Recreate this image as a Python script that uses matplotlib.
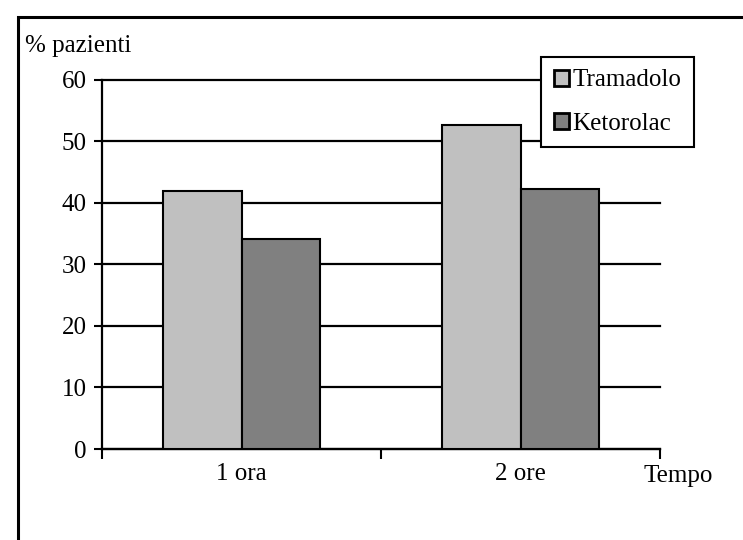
import numpy as np
import matplotlib.pyplot as plt
from matplotlib.patches import Rectangle

plt.rcParams['font.family'] = ['Liberation Serif', 'DejaVu Serif']

categories = ['1 ora', '2 ore']
tramadolo = [42, 52.7]
ketorolac = [34.1, 42.2]
series_names = ['Tramadolo', 'Ketorolac']
yticks = [0, 10, 20, 30, 40, 50, 60]

fs = 18

fig = plt.figure(figsize=(7.43, 5.4), dpi=100)
ax = fig.add_axes([0.1373, 0.1685, 0.751, 0.6835])

# outer frame (cut off on right and bottom like the original)
fig.patches.append(Rectangle((18 / 743, -0.1), 1.2, 1 - 17 / 540 + 0.1,
                             transform=fig.transFigure, fill=False,
                             edgecolor='black', linewidth=2.2))

x = np.arange(len(categories))
w = 0.28
ax.bar(x - w / 2, tramadolo, w, color='#c0c0c0', edgecolor='black', linewidth=1.5,
       label=series_names[0], zorder=3)
ax.bar(x + w / 2, ketorolac, w, color='#808080', edgecolor='black', linewidth=1.5,
       label=series_names[1], zorder=3)

ax.set_xlim(-0.5, 1.5)
ax.set_ylim(0, 60)
ax.set_yticks(yticks)
ax.set_yticklabels([str(t) for t in yticks], fontsize=fs)
ax.set_xticks([-0.5, 0.5, 1.5])
ax.set_xticklabels([])
for xi, lab in zip(x, categories):
    ax.text(xi, -2.2, lab, ha='center', va='top', fontsize=fs)

for t in yticks:
    ax.axhline(t, color='black', linewidth=1.6, zorder=1, clip_on=False)

for s in ['top', 'right']:
    ax.spines[s].set_visible(False)
ax.spines['left'].set_linewidth(1.6)
ax.spines['bottom'].set_linewidth(1.6)
ax.tick_params(axis='y', direction='out', length=6, width=1.5, pad=5)
ax.tick_params(axis='x', direction='out', length=7, width=1.5)

fig.text(25 / 743, 1 - 46 / 540, '% pazienti', fontsize=fs, ha='left', va='center')
fig.text(644 / 743, 1 - 476 / 540, 'Tempo', fontsize=fs, ha='left', va='center')

leg = ax.legend(loc='upper right', bbox_to_anchor=(694 / 743, 1 - 57 / 540),
                bbox_transform=fig.transFigure, fontsize=fs, frameon=True,
                fancybox=False, edgecolor='black', framealpha=1,
                handlelength=0.6, handleheight=0.6, handletextpad=0.15,
                borderpad=0.5, labelspacing=0.85, borderaxespad=0)
leg.get_frame().set_linewidth(1.5)
leg.set_zorder(5)
for h in leg.legend_handles:
    h.set_linewidth(2)

fig.savefig('out.png', dpi=100, facecolor='white')
